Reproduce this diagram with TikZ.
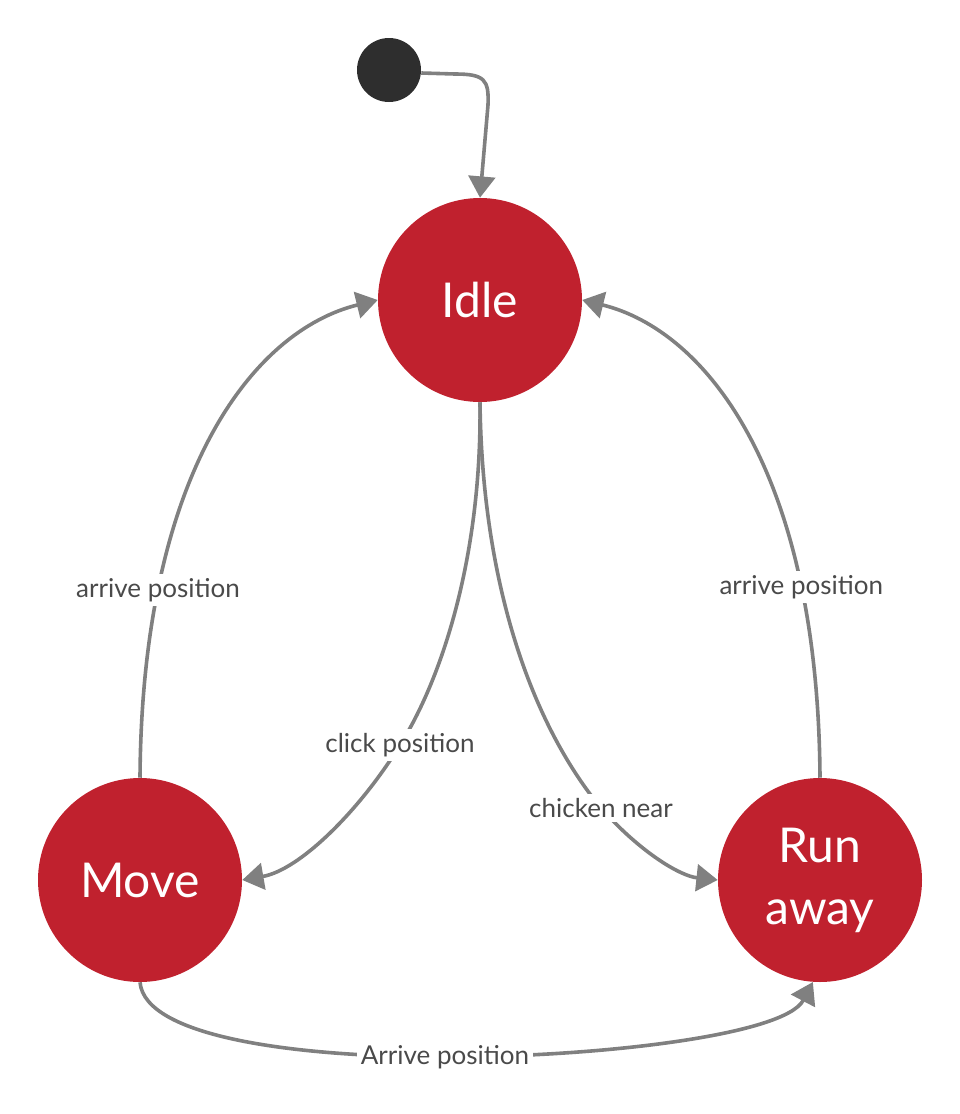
\documentclass[tikz,border=0pt]{standalone}
\usepackage{fontspec}
\setmainfont{Lato}
\usetikzlibrary{arrows.meta,calc}
\definecolor{statered}{HTML}{C0212E}
\definecolor{dotgray}{HTML}{2E2E2E}
\definecolor{linegray}{HTML}{808080}
\definecolor{labelgray}{HTML}{4A4A4A}
\begin{document}
\begin{tikzpicture}[x=0.75pt,y=-0.75pt,
 state/.style={circle, fill=statered, minimum size=153pt, inner sep=0pt, text=white, font=\fontsize{36}{46.5}\selectfont, align=center},
 startdot/.style={circle, fill=dotgray, minimum size=48pt, inner sep=0pt},
 trans/.style={draw=linegray, line width=2.7pt, -{Triangle[length=16pt,width=20pt]}},
 lbl/.style={fill=white, text=labelgray, font=\fontsize{19.5}{23}\selectfont, inner sep=3pt}
]
\useasboundingbox (0,0) rectangle (960,1114);
\node[startdot] (init) at (389,70) {};
\node[state] (idle) at (480,300) {Idle};
\node[state] (move) at (140,880) {Move};
\node[state] (run) at (820,880) {Run\\away};

\draw[trans] ($(init.east)+(0,3)$) -- (455,74) .. controls (485,74) and (489,80) .. (488,105) -- (idle.north);

\draw[trans] (move.north) .. controls (142,470) and (255,330) .. node[lbl, pos=0.232] {arrive position} (idle.west);
\draw[trans] (run.north) .. controls (818,470) and (705,330) .. node[lbl, pos=0.236] {arrive position} (idle.east);

\draw[trans] (idle.south) .. controls (482,560) and (440,682) .. (400,745) node[lbl] (clicklbl) {click position} .. controls (360,810) and (300,870) .. (move.east);
\draw[trans] (idle.south) .. controls (482,580) and (530,722) .. (601,808) node[lbl] (chicklbl) {chicken near} .. controls (640,852) and (680,876) .. (run.west);

\draw[trans] (move.south) .. controls (145,1038) and (300,1057) .. (445,1057) node[lbl] (arrlbl) {Arrive position} .. controls (600,1057) and (785,1035) .. (run.266);
\end{tikzpicture}
\end{document}
